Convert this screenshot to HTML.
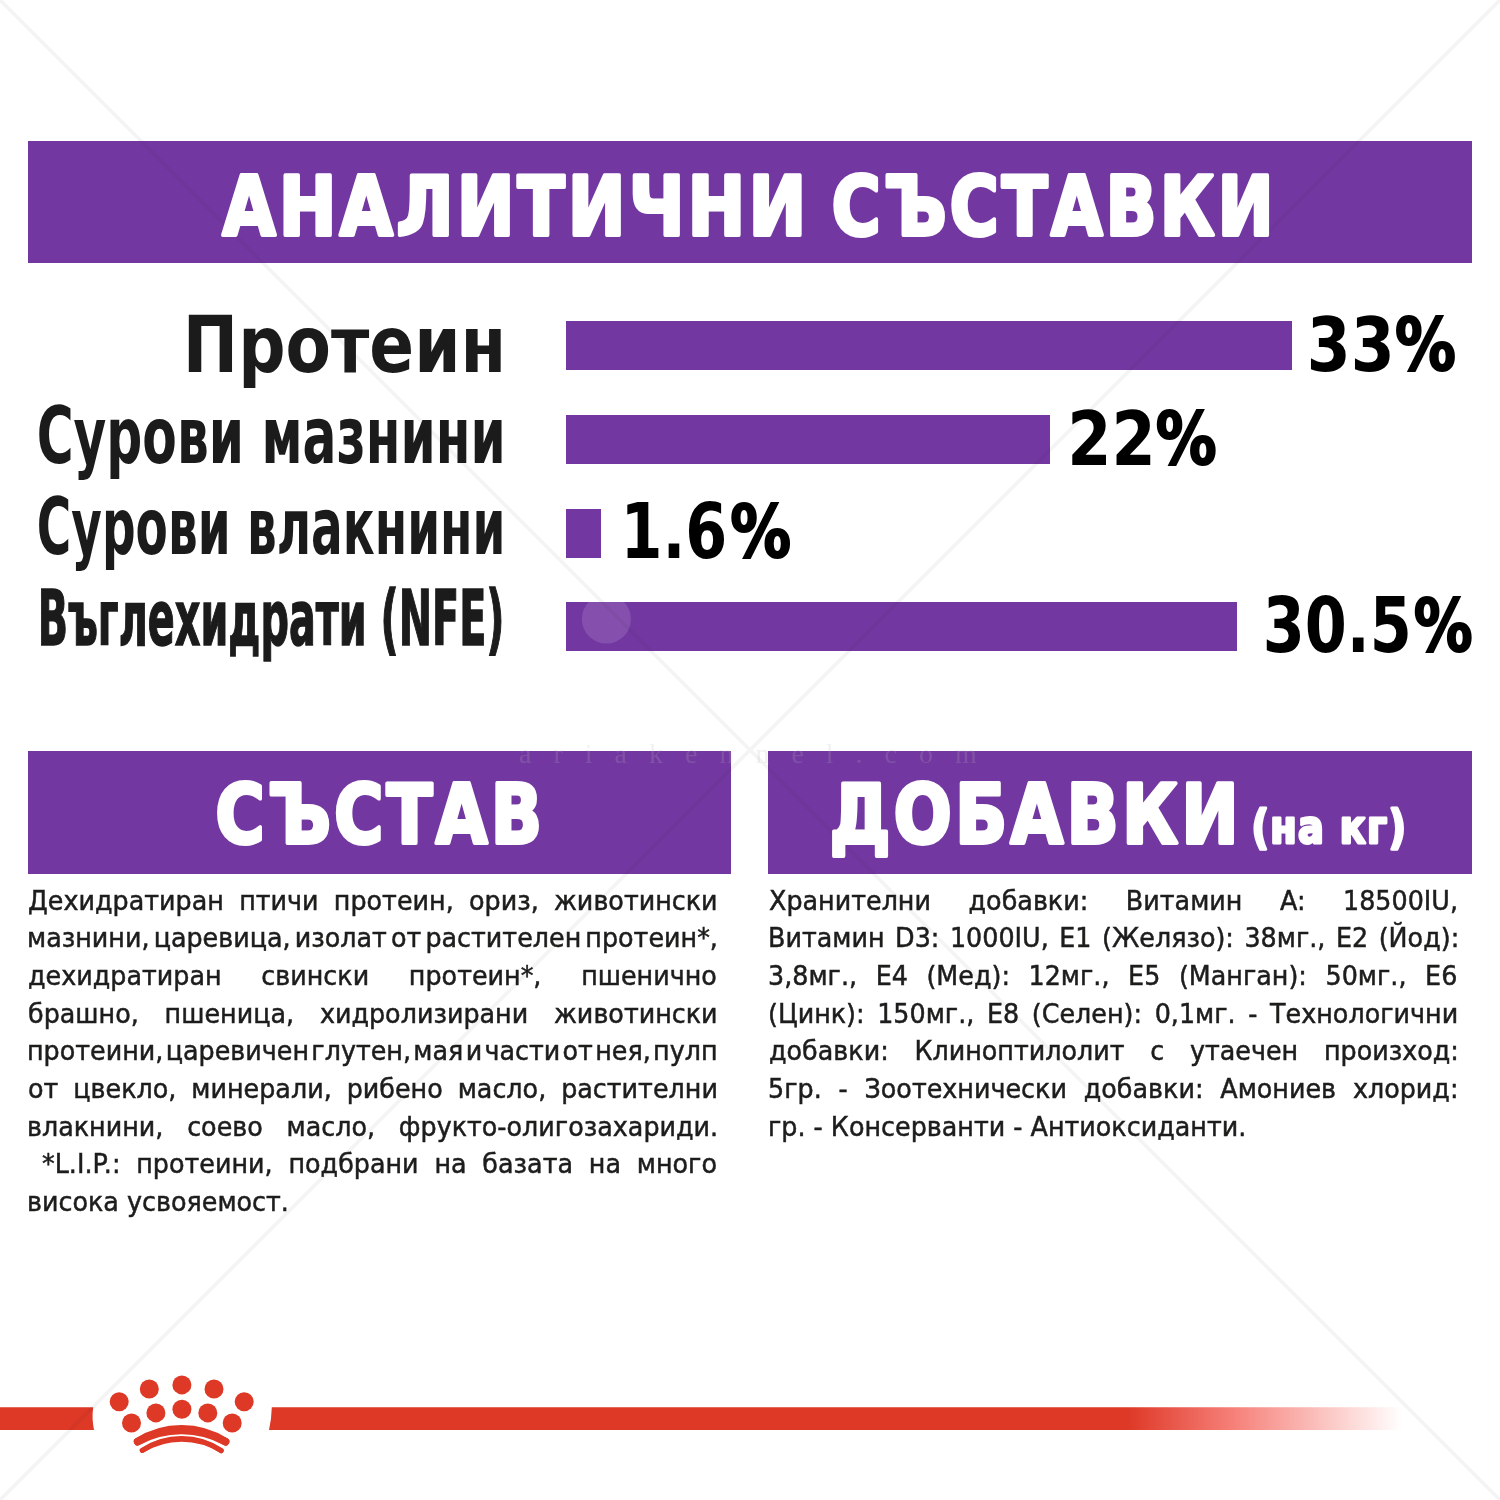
<!DOCTYPE html>
<html lang="bg"><head><meta charset="utf-8"><title>Аналитични съставки</title>
<style>
html,body{margin:0;padding:0;background:#fff}
#c{position:relative;width:1500px;height:1500px;overflow:hidden;background:#fff}
.b{position:absolute;background:#7337a1}
.t{position:absolute;white-space:pre;line-height:1;transform-origin:0 0}
.p{position:absolute;white-space:pre;line-height:1;transform-origin:0 0;font-family:'DejaVu Sans','Liberation Sans',sans-serif;font-size:26px;color:#1d1d1b;-webkit-text-stroke:0.5px #1d1d1b;transform:scale(0.977,1.04)}
.wm{position:absolute;left:519px;top:740px;font-family:'Liberation Serif',serif;font-size:28px;line-height:1;letter-spacing:22px;color:rgba(185,185,185,0.2);white-space:pre}
svg{position:absolute;left:0;top:0}
</style></head><body><div id="c">

<div class="b" style="left:27.5px;top:140.5px;width:1444.5px;height:122.8px"></div>
<div class="b" style="left:565.8px;top:321px;width:725.9px;height:49px"></div>
<div class="b" style="left:565.8px;top:415.2px;width:484.2px;height:48.8px"></div>
<div class="b" style="left:565.8px;top:508.5px;width:35px;height:49.2px"></div>
<div class="b" style="left:565.8px;top:602.3px;width:670.9px;height:49.2px"></div>
<div class="b" style="left:27.5px;top:751.2px;width:703.8px;height:122.8px"></div>
<div class="b" style="left:768.3px;top:751.2px;width:703.7px;height:122.8px"></div>


<svg width="1500" height="1500" viewBox="0 0 1500 1500">
<defs><linearGradient id="g" x1="0" y1="0" x2="1" y2="0" gradientUnits="objectBoundingBox">
<stop offset="0" stop-color="#de3826"/><stop offset="0.757" stop-color="#de3826"/><stop offset="0.852" stop-color="#f6817a"/><stop offset="1" stop-color="#fff"/></linearGradient></defs>
<circle cx="606.4" cy="619" r="24.5" fill="#fff" fill-opacity="0.13"/>
<path d="M0 1407.2 H93.2 Q91.6 1418.5 94 1430 H0 Z" fill="#de3826"/>
<path d="M271.8 1407.2 H1402 V1430 H269 Q271.6 1418.5 271.8 1407.2 Z" fill="url(#g)"/>
<g fill="#de3826">
<circle cx="181.9" cy="1384.9" r="9.5"/><circle cx="149.3" cy="1389" r="9.5"/><circle cx="214" cy="1389" r="9.5"/>
<circle cx="119.2" cy="1401.7" r="9.5"/><circle cx="244.2" cy="1401.7" r="9.5"/>
<circle cx="181.9" cy="1409.3" r="9.5"/><circle cx="155.9" cy="1412.9" r="9.5"/><circle cx="207.8" cy="1412.9" r="9.5"/>
<circle cx="131.5" cy="1423" r="9.5"/><circle cx="232.2" cy="1423" r="9.5"/>
</g>
<g fill="none" stroke="#de3826" stroke-linecap="round">
<path d="M137.7 1441.6 A81.7 81.7 0 0 1 225.5 1441.7" stroke-width="7.7"/>
<path d="M137.7 1441.6 A90.9 90.9 0 0 1 225.5 1441.7" stroke-width="7.7"/>
<path d="M142.3 1450.4 A71.3 71.3 0 0 1 221.2 1450.6" stroke-width="5"/>
<path d="M142.3 1450.4 A75.1 75.1 0 0 1 221.2 1450.6" stroke-width="5"/>
</g>
<path d="M0 0 L1500 1500 M1500 0 L0 1500" stroke="#f4f4f4" stroke-width="3.5" fill="none" style="mix-blend-mode:multiply"/>
</svg>

<div class="wm">ariakennel.com</div>
<svg width="1500" height="1500" viewBox="0 0 1500 1500" class="tx">
<text transform="matrix(0.8859 0 0 0.9535 222.39 235.09)" font-family="DejaVu Sans Condensed, Liberation Sans, sans-serif" font-weight="bold" font-size="86" fill="#fff" stroke="#fff" stroke-width="4" stroke-linejoin="round" letter-spacing="4" >АНАЛИТИЧНИ</text>
<text transform="matrix(0.8598 0 0 0.9535 831.68 235.09)" font-family="DejaVu Sans Condensed, Liberation Sans, sans-serif" font-weight="bold" font-size="86" fill="#fff" stroke="#fff" stroke-width="4" stroke-linejoin="round" letter-spacing="4" >СЪСТАВКИ</text>
<text transform="matrix(0.9193 0 0 0.9899 182.82 371.50)" font-family="DejaVu Sans Condensed, Liberation Sans, sans-serif" font-weight="bold" font-size="80" fill="#1b1b1b" >Протеин</text>
<text transform="matrix(0.6990 0 0 0.9831 36.67 462.50)" font-family="DejaVu Sans Condensed, Liberation Sans, sans-serif" font-weight="bold" font-size="80" fill="#1b1b1b" >Сурови мазнини</text>
<text transform="matrix(0.6531 0 0 0.9728 36.84 553.50)" font-family="DejaVu Sans Condensed, Liberation Sans, sans-serif" font-weight="bold" font-size="80" fill="#1b1b1b" >Сурови влакнини</text>
<text transform="matrix(0.5528 0 0 0.9586 37.66 645.10)" font-family="DejaVu Sans Condensed, Liberation Sans, sans-serif" font-weight="bold" font-size="80" fill="#1b1b1b" stroke="#1b1b1b" stroke-width="1.5" stroke-linejoin="miter" >Въглехидрати (NFE)</text>
<text transform="matrix(0.9351 0 0 1.0049 1306.78 370.80)" font-family="DejaVu Sans Condensed, Liberation Sans, sans-serif" font-weight="bold" font-size="75" fill="#000" >33</text>
<text transform="matrix(0.9015 0 0 0.9694 1395.11 369.83)" font-family="DejaVu Sans Condensed, Liberation Sans, sans-serif" font-weight="bold" font-size="75" fill="#000" stroke="#000" stroke-width="2" stroke-linejoin="miter" >%</text>
<text transform="matrix(0.9428 0 0 1.0067 1067.15 464.60)" font-family="DejaVu Sans Condensed, Liberation Sans, sans-serif" font-weight="bold" font-size="75" fill="#000" >22</text>
<text transform="matrix(0.9015 0 0 0.9712 1155.71 463.63)" font-family="DejaVu Sans Condensed, Liberation Sans, sans-serif" font-weight="bold" font-size="75" fill="#000" stroke="#000" stroke-width="2" stroke-linejoin="miter" >%</text>
<text transform="matrix(0.8938 0 0 1.0104 620.48 558.00)" font-family="DejaVu Sans Condensed, Liberation Sans, sans-serif" font-weight="bold" font-size="75" fill="#000" >1.6</text>
<text transform="matrix(0.8999 0 0 0.9747 730.21 557.03)" font-family="DejaVu Sans Condensed, Liberation Sans, sans-serif" font-weight="bold" font-size="75" fill="#000" stroke="#000" stroke-width="2" stroke-linejoin="miter" >%</text>
<text transform="matrix(0.8957 0 0 1.0140 1262.76 652.00)" font-family="DejaVu Sans Condensed, Liberation Sans, sans-serif" font-weight="bold" font-size="75" fill="#000" >30.5</text>
<text transform="matrix(0.8708 0 0 0.9783 1413.74 651.02)" font-family="DejaVu Sans Condensed, Liberation Sans, sans-serif" font-weight="bold" font-size="75" fill="#000" stroke="#000" stroke-width="2" stroke-linejoin="miter" >%</text>
<text transform="matrix(0.8639 0 0 0.9550 215.47 843.09)" font-family="DejaVu Sans Condensed, Liberation Sans, sans-serif" font-weight="bold" font-size="86" fill="#fff" stroke="#fff" stroke-width="4" stroke-linejoin="round" letter-spacing="4" >СЪСТАВ</text>
<text transform="matrix(0.8801 0 0 0.9550 829.66 843.09)" font-family="DejaVu Sans Condensed, Liberation Sans, sans-serif" font-weight="bold" font-size="86" fill="#fff" stroke="#fff" stroke-width="4" stroke-linejoin="round" letter-spacing="4" >ДОБАВКИ</text>
<text transform="matrix(0.8682 0 0 0.9476 1251.58 842.62)" font-family="DejaVu Sans Condensed, Liberation Sans, sans-serif" font-weight="bold" font-size="49" fill="#fff" stroke="#fff" stroke-width="3" stroke-linejoin="round" letter-spacing="1.5" >(на кг)</text>
</svg>
<div class="p" style="left:28.23px;top:886.72px;word-spacing:7.354px;">Дехидратиран птичи протеин, ориз, животински</div>
<div class="p" style="left:27.18px;top:924.37px;word-spacing:-4.088px;">мазнини, царевица, изолат от растителен протеин*,</div>
<div class="p" style="left:28.16px;top:962.02px;word-spacing:32.365px;">дехидратиран свински протеин*, пшенично</div>
<div class="p" style="left:28.09px;top:999.67px;word-spacing:18.106px;">брашно, пшеница, хидролизирани животински</div>
<div class="p" style="left:27.18px;top:1037.32px;word-spacing:-5.919px;">протеини, царевичен глутен, мая и части от нея, пулп</div>
<div class="p" style="left:28.04px;top:1074.97px;word-spacing:7.024px;">от цвекло, минерали, рибено масло, растителни</div>
<div class="p" style="left:27.18px;top:1112.62px;word-spacing:16.026px;">влакнини, соево масло, фрукто-олигозахариди.</div>
<div class="p" style="left:41.87px;top:1150.27px;word-spacing:7.884px;">*L.I.P.: протеини, подбрани на базата на много</div>
<div class="p" style="left:27.18px;top:1187.92px;">висока усвояемост.</div>
<div class="p" style="left:769.45px;top:886.72px;word-spacing:30.188px;">Хранителни добавки: Витамин A: 18500IU,</div>
<div class="p" style="left:767.91px;top:924.37px;word-spacing:2.513px;">Витамин D3: 1000IU, E1 (Желязо): 38мг., E2 (Йод):</div>
<div class="p" style="left:768.45px;top:962.02px;word-spacing:10.769px;">3,8мг., E4 (Мед): 12мг., E5 (Манган): 50мг., E6</div>
<div class="p" style="left:768.17px;top:999.67px;word-spacing:4.665px;">(Цинк): 150мг., E8 (Селен): 0,1мг. - Технологични</div>
<div class="p" style="left:769.06px;top:1037.32px;word-spacing:18.038px;">добавки: Клиноптилолит с утаечен произход:</div>
<div class="p" style="left:768.45px;top:1074.97px;word-spacing:8.956px;">5гр. - Зоотехнически добавки: Амониев хлорид:</div>
<div class="p" style="left:768.08px;top:1112.62px;">гр. - Консерванти - Антиоксиданти.</div>
</div></body></html>
